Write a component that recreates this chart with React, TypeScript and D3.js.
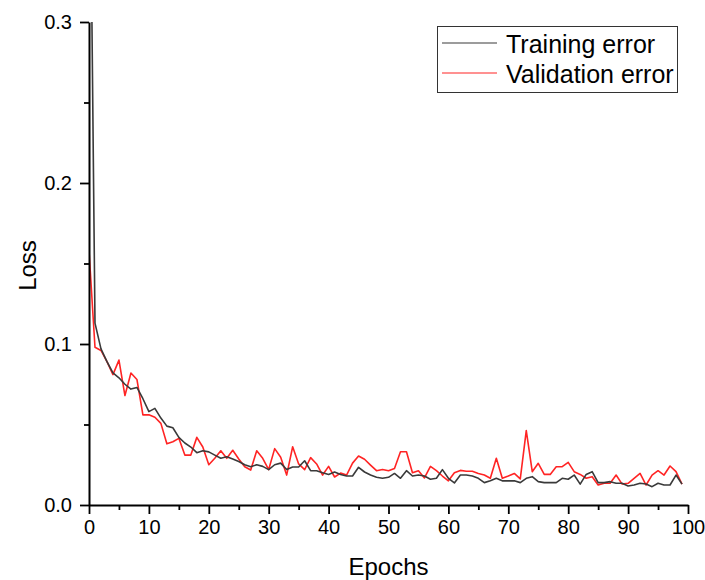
import { useEffect, useRef } from 'react';
import * as d3 from 'd3';

const epochs: number[] = d3.range(0, 100);

// training loss per epoch (first point runs off the top of the axis)
const trainingError: number[] = [
  0.48, 0.113, 0.097, 0.089, 0.082, 0.079, 0.075, 0.072, 0.073, 0.066,
  0.058, 0.060, 0.054, 0.049, 0.048, 0.042, 0.0385, 0.036, 0.0325, 0.0337,
  0.033, 0.031, 0.029, 0.030, 0.0285, 0.027, 0.025, 0.0238, 0.025, 0.024,
  0.022, 0.025, 0.026, 0.022, 0.0236, 0.0236, 0.0275, 0.0213, 0.0213, 0.020,
  0.019, 0.0205, 0.019, 0.018, 0.018, 0.0234, 0.0205, 0.0186, 0.0172, 0.0166,
  0.0172, 0.0196, 0.0166, 0.0213, 0.018, 0.0186, 0.018, 0.016, 0.0166, 0.022,
  0.0166, 0.0137, 0.0186, 0.0186, 0.018, 0.0166, 0.0139, 0.015, 0.0166, 0.015,
  0.015, 0.015, 0.0139, 0.0166, 0.0176, 0.0145, 0.0139, 0.0139, 0.0139, 0.0166,
  0.016, 0.0186, 0.013, 0.019, 0.0207, 0.0139, 0.0139, 0.0145, 0.0135, 0.0135,
  0.0118, 0.0124, 0.0135, 0.013, 0.0114, 0.0135, 0.0124, 0.0124, 0.0186, 0.013,
];

const validationError: number[] = [
  0.158, 0.098, 0.096, 0.089, 0.081, 0.090, 0.068, 0.082, 0.078, 0.056,
  0.056, 0.0545, 0.0507, 0.038, 0.0393, 0.0414, 0.031, 0.031, 0.042, 0.036,
  0.025, 0.029, 0.0337, 0.029, 0.034, 0.0286, 0.0238, 0.0217, 0.0337, 0.029,
  0.022, 0.035, 0.0297, 0.0186, 0.0362, 0.0255, 0.022, 0.0294, 0.0255, 0.0186,
  0.024, 0.0174, 0.0198, 0.0186, 0.026, 0.0304, 0.0284, 0.0248, 0.0213, 0.022,
  0.0213, 0.0227, 0.0331, 0.0331, 0.020, 0.0213, 0.0168, 0.024, 0.0213, 0.018,
  0.015, 0.020, 0.0215, 0.021, 0.021, 0.0196, 0.0186, 0.0166, 0.029, 0.0166,
  0.018, 0.0196, 0.0162, 0.0462, 0.0207, 0.0259, 0.019, 0.019, 0.0238, 0.0238,
  0.0265, 0.0207, 0.019, 0.0166, 0.0176, 0.0124, 0.0135, 0.0135, 0.0186, 0.013,
  0.0135, 0.0166, 0.0196, 0.0124, 0.0186, 0.0213, 0.0186, 0.0242, 0.0207, 0.013,
];

const xTicks: number[] = [0, 10, 20, 30, 40, 50, 60, 70, 80, 90, 100];
const xMinorTicks: number[] = [5, 15, 25, 35, 45, 55, 65, 75, 85, 95];
const yTicks: number[] = [0, 0.1, 0.2, 0.3];
const yMinorTicks: number[] = [0.05, 0.15, 0.25];

const seriesNames: string[] = ['Training error', 'Validation error'];
const seriesColors: string[] = ['#3a3a3a', '#ff2424'];

const FONT = 'Liberation Sans, Arial, sans-serif';

export default function App() {
  const chartRef = useRef<SVGSVGElement>(null);

  useEffect(() => {
    const svg = d3.select(chartRef.current);
    svg.selectAll('*').remove();

    const left = 89, right = 688, top = 22, bottom = 505;

    const x = d3.scaleLinear().domain([0, 100]).range([left, right]);
    const y = d3.scaleLinear().domain([0, 0.3]).range([bottom, top]);

    svg.append('defs').append('clipPath').attr('id', 'plot-clip')
      .append('rect')
      .attr('x', left).attr('y', top)
      .attr('width', right - left).attr('height', bottom - top);

    // lines
    const series = [trainingError, validationError];
    const line = d3.line<number>()
      .x((_, i) => x(epochs[i]))
      .y(d => y(d));

    const plot = svg.append('g').attr('clip-path', 'url(#plot-clip)');
    // draw training on top of validation, like the source
    [1, 0].forEach(k => {
      plot.append('path')
        .datum(series[k])
        .attr('fill', 'none')
        .attr('stroke', seriesColors[k])
        .attr('stroke-width', 1.6)
        .attr('stroke-linejoin', 'round')
        .attr('d', line);
    });

    // x axis
    const xAxis = svg.append('g')
      .attr('transform', `translate(0,${bottom})`)
      .call(d3.axisBottom(x).tickValues(xTicks).tickSize(9).tickPadding(6).tickSizeOuter(0));
    svg.append('g')
      .attr('transform', `translate(0,${bottom})`)
      .call(d3.axisBottom(x).tickValues(xMinorTicks).tickSize(5).tickFormat(() => '').tickSizeOuter(0))
      .select('.domain').remove();

    // y axis
    const yAxis = svg.append('g')
      .attr('transform', `translate(${left},0)`)
      .call(d3.axisLeft(y).tickValues(yTicks).tickSize(9).tickPadding(8).tickSizeOuter(0)
        .tickFormat(d => (+d === 0 ? '0.0' : d3.format('.1f')(+d))));
    svg.append('g')
      .attr('transform', `translate(${left},0)`)
      .call(d3.axisLeft(y).tickValues(yMinorTicks).tickSize(5).tickFormat(() => '').tickSizeOuter(0))
      .select('.domain').remove();

    svg.selectAll('.domain').attr('stroke', '#000').attr('stroke-width', 2);
    svg.selectAll('.tick line').attr('stroke', '#000').attr('stroke-width', 1.8);
    [xAxis, yAxis].forEach(a => {
      a.selectAll('text')
        .attr('font-family', FONT)
        .attr('font-size', 20)
        .attr('fill', '#000');
    });

    // axis titles
    svg.append('text')
      .attr('x', (left + right) / 2)
      .attr('y', 575)
      .attr('text-anchor', 'middle')
      .attr('font-family', FONT)
      .attr('font-size', 24)
      .text('Epochs');

    svg.append('text')
      .attr('transform', `translate(36,${(top + bottom) / 2 + 2}) rotate(-90)`)
      .attr('text-anchor', 'middle')
      .attr('font-family', FONT)
      .attr('font-size', 24)
      .text('Loss');

    // legend
    const legend = svg.append('g');
    legend.append('rect')
      .attr('x', 437.5).attr('y', 26.5)
      .attr('width', 240).attr('height', 66)
      .attr('fill', '#fff')
      .attr('stroke', '#333')
      .attr('stroke-width', 1);

    seriesNames.forEach((name, i) => {
      const ly = 43 + i * 30;
      legend.append('line')
        .attr('x1', 442).attr('x2', 497)
        .attr('y1', ly).attr('y2', ly)
        .attr('stroke', seriesColors[i])
        .attr('stroke-width', 1.2);
      legend.append('text')
        .attr('x', 506)
        .attr('y', ly + 10)
        .attr('font-family', FONT)
        .attr('font-size', 25)
        .text(name);
    });
  }, []);

  return (
    <svg
      ref={chartRef}
      width="705"
      height="580"
      style={{ position: 'absolute', left: 0, top: 0, background: '#fff' }}
    ></svg>
  );
}
